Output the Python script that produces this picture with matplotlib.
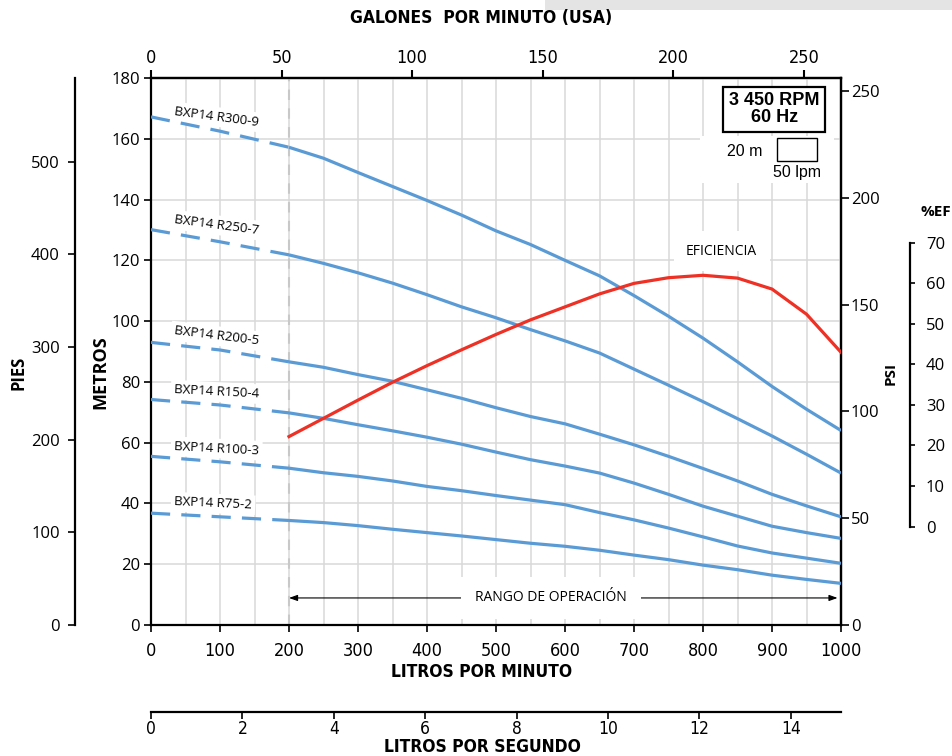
import matplotlib.pyplot as plt
from matplotlib import font_manager as fm
from matplotlib.patches import Rectangle

# ---------------- data ----------------
# flow (litres per minute) for the dashed start and the solid curves
flow_dash = [0, 100, 200]
flow = [200, 250, 300, 350, 400, 450, 500, 550, 600,
        650, 700, 750, 800, 850, 900, 950, 1000]

models = ["BXP14 R300-9", "BXP14 R250-7", "BXP14 R200-5",
          "BXP14 R150-4", "BXP14 R100-3", "BXP14 R75-2"]

# head in metres, dashed part (0-200 lpm)
head_dash = {
    "BXP14 R300-9": [167.2, 162.5, 157.2],
    "BXP14 R250-7": [130.1, 126.1, 121.8],
    "BXP14 R200-5": [93.0, 90.5, 86.6],
    "BXP14 R150-4": [74.2, 72.4, 69.8],
    "BXP14 R100-3": [55.5, 53.7, 51.6],
    "BXP14 R75-2": [36.8, 35.6, 34.4],
}
# head in metres, operating range (200-1000 lpm)
head = {
    "BXP14 R300-9": [157.2, 153.6, 148.9, 144.3, 139.7, 134.9, 129.7, 125.2, 120.0,
                     114.9, 108.4, 101.6, 94.4, 86.6, 78.5, 71.0, 64.0],
    "BXP14 R250-7": [121.8, 119.0, 115.9, 112.5, 108.7, 104.7, 101.1, 97.2, 93.5,
                     89.5, 84.2, 78.9, 73.5, 67.9, 62.2, 56.2, 50.0],
    "BXP14 R200-5": [86.6, 84.8, 82.4, 80.2, 77.4, 74.6, 71.5, 68.6, 66.2,
                     62.8, 59.3, 55.5, 51.5, 47.4, 43.0, 39.2, 35.6],
    "BXP14 R150-4": [69.8, 68.0, 65.9, 63.9, 61.8, 59.5, 56.9, 54.4, 52.3,
                     50.0, 46.7, 43.0, 39.1, 35.8, 32.5, 30.4, 28.5],
    "BXP14 R100-3": [51.6, 50.1, 48.9, 47.4, 45.6, 44.2, 42.6, 41.1, 39.6,
                     37.0, 34.6, 31.9, 29.0, 26.0, 23.7, 22.0, 20.3],
    "BXP14 R75-2": [34.4, 33.7, 32.7, 31.5, 30.4, 29.3, 28.1, 26.9, 25.9,
                    24.6, 23.0, 21.5, 19.7, 18.2, 16.4, 15.0, 13.7],
}
# efficiency in percent
efficiency = [22.2, 26.7, 31.2, 35.6, 39.7, 43.6, 47.4, 51.0, 54.2,
              57.4, 60.0, 61.4, 62.0, 61.3, 58.6, 52.4, 43.0]

# label placement (lpm, m, angle)
label_pos = [(95, 167.2, -7.5), (95, 131.6, -7.5), (95, 95.1, -7.0),
             (95, 76.7, -3.0), (95, 58.1, -3.0), (90, 40.0, -2.6)]

lpm_ticks = list(range(0, 1001, 100))
gpm_ticks = list(range(0, 251, 50))
m_ticks = list(range(0, 181, 20))
ft_ticks = list(range(0, 501, 100))
psi_ticks = list(range(0, 251, 50))
ef_ticks = list(range(0, 71, 10))
lps_ticks = list(range(0, 15, 2))


def narrow_font(bold=False, size=13):
    # look for any narrow / condensed face that is installed
    want = 700 if bold else 400
    best, best_score = None, None
    for f in fm.fontManager.ttflist:
        tag = (f.name + " " + str(f.stretch) + " " + f.fname).lower()
        if "narrow" not in tag and "condensed" not in tag:
            continue
        if f.style != "normal":
            continue
        w = f.weight if isinstance(f.weight, (int, float)) \
            else fm.weight_dict.get(f.weight, 400)
        score = abs(w - want)
        if "extra" in tag or "ultra" in tag:
            score += 500
        if "semi" in tag:
            score += 50
        if "liberation" in tag:
            score -= 30
        if best is None or score < best_score:
            best, best_score = f, score
    if best is None:
        return fm.FontProperties(family="DejaVu Sans", size=size - 1.5,
                                 weight="bold" if bold else "normal")
    return fm.FontProperties(fname=best.fname, size=size)


def set_labels_font(axis, fp):
    for lbl in axis.get_ticklabels():
        lbl.set_fontproperties(fp)


# ---------------- style ----------------
W, H = 953, 756
BLUE = "#5b9bd5"
RED = "#ee3124"
GRID = "#d9d9d9"
SANS = "Open Sans"
ARIAL = "Liberation Sans"
tick_fp = narrow_font(False, 13)
lps_fp = narrow_font(False, 12.5)
title_fp = narrow_font(True, 12.5)

fig = plt.figure(figsize=(W / 100, H / 100), dpi=100)
fig.patches.append(Rectangle((545 / W, 1 - 10 / H), 408 / W, 10 / H,
                             transform=fig.transFigure, fc="#e4e4e4",
                             ec="none"))

ax = fig.add_axes([151 / W, 1 - 625 / H, 690 / W, 547 / H])
ax.set_xlim(0, 1000)
ax.set_ylim(0, 180)
ax.set_xticks(lpm_ticks)
ax.set_xticks(range(0, 1001, 50), minor=True)
ax.set_yticks(m_ticks)
ax.set_axisbelow(True)
ax.grid(True, which="both", axis="x", color=GRID, lw=1.1)
ax.grid(True, which="major", axis="y", color=GRID, lw=1.1)
ax.tick_params(which="minor", length=0)
ax.tick_params(axis="y", direction="out", length=5, width=1.2, pad=3,
               labelsize=12, labelfontfamily=SANS)
ax.tick_params(axis="x", which="major", direction="out", length=5, width=1.2,
               pad=7)
set_labels_font(ax.xaxis, tick_fp)
for s in ax.spines.values():
    s.set_linewidth(1.6)

# top axis: US gallons per minute
sx = ax.secondary_xaxis("top", functions=(lambda q: q / 3.785,
                                          lambda g: g * 3.785))
sx.set_xticks(gpm_ticks)
sx.tick_params(direction="out", length=6, width=1.5, pad=2)
set_labels_font(sx.xaxis, tick_fp)
sx.spines["top"].set_linewidth(1.6)

# left outer axis: feet
sl = ax.secondary_yaxis(-76 / 690, functions=(lambda m: m * 3.2808,
                                               lambda f: f / 3.2808))
sl.set_yticks(ft_ticks)
sl.tick_params(direction="out", length=5, width=1.2, pad=6, labelsize=12,
               labelfontfamily=SANS)
sl.spines["left"].set_linewidth(1.6)

# right axis: psi
sr = ax.secondary_yaxis("right", functions=(lambda m: m * 1.4223,
                                            lambda p: p / 1.4223))
sr.set_yticks(psi_ticks)
sr.tick_params(direction="out", length=6, width=1.2, pad=1, labelsize=12,
               labelfontfamily=SANS)
sr.spines["right"].set_linewidth(1.6)

# pump curves
ax.axvline(200, color="#c8c8c8", lw=1.5, ls=(0, (5, 4)), zorder=1)
for name, (lx, ly, ang) in zip(models, label_pos):
    ax.plot(flow_dash, head_dash[name], color=BLUE, lw=2.3,
            ls=(0, (6, 3.5)), zorder=4)
    ax.plot(flow, head[name], color=BLUE, lw=2.3, zorder=4,
            solid_capstyle="butt")
    ax.text(lx, ly, name, fontsize=9.5, family=SANS, ha="center",
            va="center", rotation=ang, rotation_mode="anchor", zorder=3,
            bbox=dict(boxstyle="square,pad=0.25", fc="white", ec="none"))

# efficiency axis
ae = ax.twinx()
ef0, ef_scale = 32.4, 1.3336
ae.set_ylim(-ef0 / ef_scale, (180 - ef0) / ef_scale)
for k in ["top", "bottom", "left"]:
    ae.spines[k].set_visible(False)
ae.spines["right"].set_position(("axes", 759 / 690))
ae.spines["right"].set_bounds(0, 70)
ae.spines["right"].set_linewidth(1.6)
ae.set_yticks(ef_ticks)
ae.tick_params(direction="out", length=3.5, width=1.2, pad=8, labelsize=12,
               labelfontfamily=SANS)
ae.plot(flow, efficiency, color=RED, lw=2.3, zorder=5)

ax.text(827, 123.0, "EFICIENCIA", fontsize=10, family=SANS, ha="center",
        va="center", zorder=3,
        bbox=dict(boxstyle="square,pad=0.9", fc="white", ec="none"))

# operating range
ax.annotate("", xy=(995, 8.9), xytext=(200, 8.9),
            arrowprops=dict(arrowstyle="<|-|>,head_length=0.5,head_width=0.18",
                            lw=0.8, color="black", shrinkA=0, shrinkB=0),
            zorder=3)
ax.text(580, 8.9, "RANGO DE OPERACIÓN", fontsize=10, family=SANS,
        ha="center", va="center", zorder=4,
        bbox=dict(boxstyle="square,pad=1.0", fc="white", ec="none"))

# speed box and scale note
ax.text(903, 169.7, "3 450 RPM\n60 Hz", fontsize=13, family=ARIAL,
        fontweight="bold", ha="center", va="center", linespacing=1.0,
        zorder=5,
        bbox=dict(boxstyle="square,pad=0.3", fc="white", ec="black", lw=1.6))
ax.add_patch(Rectangle((795, 145.5), 195, 15.3, fc="white", ec="none",
                       zorder=2))
ax.add_patch(Rectangle((907, 152.6), 58, 7.7, fill=False, ec="black",
                       lw=1.0, zorder=3))
ax.text(861, 155.9, "20 m", fontsize=11.5, family=ARIAL, ha="center",
        va="center", zorder=3)
ax.text(936, 149.0, "50 lpm", fontsize=11.5, family=ARIAL, ha="center",
        va="center", zorder=3)

# bottom axis: litres per second
al = fig.add_axes([151 / W, 1 - 712 / H, 690 / W, 0.0001])
al.patch.set_visible(False)
for k in ["top", "left", "right"]:
    al.spines[k].set_visible(False)
al.spines["bottom"].set_linewidth(1.6)
al.set_xlim(0, 15.1)
al.set_xticks(lps_ticks)
al.set_yticks([])
al.tick_params(axis="x", direction="out", length=5, width=1.2, pad=1)
set_labels_font(al.xaxis, lps_fp)

# axis titles
fig.text(481 / W, 1 - 18 / H, "GALONES  POR MINUTO (USA)",
         fontproperties=title_fp, ha="center", va="center")
fig.text(482 / W, 1 - 672 / H, "LITROS POR MINUTO",
         fontproperties=title_fp, ha="center", va="center")
fig.text(482 / W, 1 - 747 / H, "LITROS POR SEGUNDO",
         fontproperties=title_fp, ha="center", va="center")
fig.text(19 / W, 1 - 373 / H, "PIES", family=SANS, fontsize=12,
         fontweight="bold", rotation=90, ha="center", va="center")
fig.text(100 / W, 1 - 372 / H, "METROS", family=SANS, fontsize=13,
         fontweight="bold", rotation=90, ha="center", va="center")
fig.text(891 / W, 1 - 373 / H, "PSI", family=SANS, fontsize=11,
         fontweight="bold", rotation=90, ha="center", va="center")
fig.text(936 / W, 1 - 212 / H, "%EF", family=SANS, fontsize=11,
         fontweight="bold", ha="center", va="center")

fig.savefig("out.png", dpi=100)
